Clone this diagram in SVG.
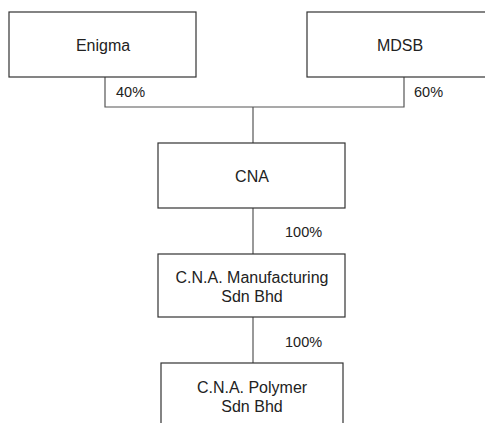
<svg xmlns="http://www.w3.org/2000/svg" width="485" height="423" viewBox="0 0 485 423">
<style>
.box{fill:#fff;stroke:#333;stroke-width:1.2}
.line{stroke:#555;stroke-width:1.2;fill:none}
text{font-family:"Liberation Sans",Arial,sans-serif;fill:#222}
.t{font-size:16px;text-anchor:middle}
.p{font-size:14.5px}
</style>
<rect width="485" height="423" fill="#fff"/>
<g id="connectors">
<polyline class="line" points="105,77 105,107 404,107 404,77"/>
<line class="line" x1="253" y1="107" x2="253" y2="143"/>
<line class="line" x1="253" y1="208" x2="253" y2="254"/>
<line class="line" x1="253" y1="317" x2="253" y2="363"/>
<text class="p" x="116" y="97">40%</text>
<text class="p" x="414" y="97">60%</text>
<text class="p" x="285" y="237">100%</text>
<text class="p" x="285" y="347">100%</text>
</g>
<g id="enigma"><rect class="box" x="9" y="12" width="187" height="65"/><text class="t" x="103" y="51">Enigma</text></g>
<g id="mdsb"><rect class="box" x="307" y="12" width="190" height="65"/><text class="t" x="400" y="51">MDSB</text></g>
<g id="cna"><rect class="box" x="158" y="143" width="187" height="65"/><text class="t" x="252" y="182">CNA</text></g>
<g id="cnamfg"><rect class="box" x="158" y="254" width="187" height="63"/><text class="t" x="252" y="283">C.N.A. Manufacturing</text><text class="t" x="252" y="302">Sdn Bhd</text></g>
<g id="cnapoly"><rect class="box" x="161" y="363" width="182" height="70"/><text class="t" x="252" y="393">C.N.A. Polymer</text><text class="t" x="252" y="412">Sdn Bhd</text></g>
</svg>
